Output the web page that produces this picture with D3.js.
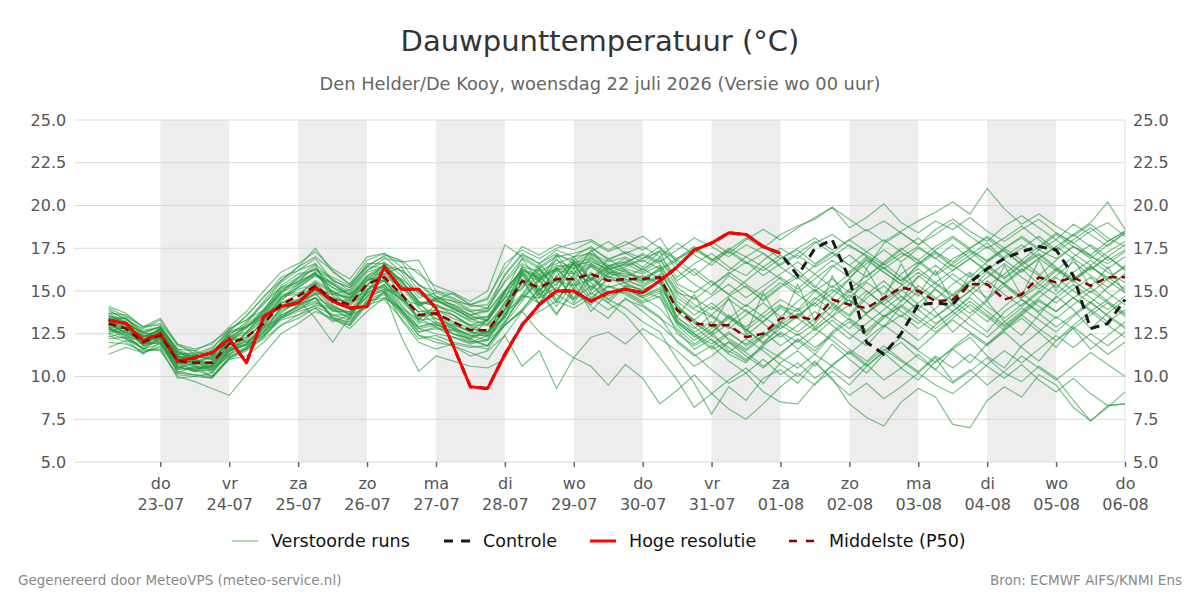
<!DOCTYPE html>
<html><head><meta charset="utf-8">
<script src="https://cdn.jsdelivr.net/npm/d3@7"></script>
<style>
body{margin:0;background:#fff;}
svg{display:block;font-family:"DejaVu Sans",sans-serif;}
</style></head><body><svg id="chart" width="1200" height="600"></svg>
<script>
// ---------------- DATA ----------------
const titleText = "Dauwpunttemperatuur (°C)";
const subtitleText = "Den Helder/De Kooy, woensdag 22 juli 2026 (Versie wo 00 uur)";
const startTime = "2026-07-22T06:00:00Z";
const stepHours = 6;
const xDomain = ["2026-07-21T18:00:00Z", "2026-08-06T00:00:00Z"];
const yTicks = [5.0, 7.5, 10.0, 12.5, 15.0, 17.5, 20.0, 22.5, 25.0];
const dayTicks = ["2026-07-23","2026-07-24","2026-07-25","2026-07-26","2026-07-27","2026-07-28","2026-07-29","2026-07-30","2026-07-31","2026-08-01","2026-08-02","2026-08-03","2026-08-04","2026-08-05","2026-08-06"];
const dayNames = ["do","vr","za","zo","ma","di","wo","do","vr","za","zo","ma","di","wo","do"];
const dayDates = ["23-07","24-07","25-07","26-07","27-07","28-07","29-07","30-07","31-07","01-08","02-08","03-08","04-08","05-08","06-08"];
const shadedDays = ["2026-07-23","2026-07-25","2026-07-27","2026-07-29","2026-07-31","2026-08-02","2026-08-04"];
const legendLabels = ["Verstoorde runs","Controle","Hoge resolutie","Middelste (P50)"];

const hiresValues = [13.3,13.1,12.1,12.5,10.9,11.1,11.4,12.2,10.8,13.5, 14.1,14.3,15.2,14.4,14.0,14.1,16.4,15.1,15.1,14.0, 11.8,9.4,9.3,11.3,13.0,14.2,15.0,15.0,14.4,14.9, 15.1,14.9,15.6,16.4,17.4,17.8,18.4,18.3,17.6,17.2];
const controlValues = [13.3,13.1,12.1,12.5,10.9,11.1,11.4,12.2,10.8,13.5, 14.1,14.3,15.2,14.4,14.0,14.1,16.4,15.1,15.1,14.0, 11.8,9.4,9.3,11.3,13.0,14.2,15.0,15.0,14.4,14.9, 15.1,14.9,15.6,16.4,17.4,17.8,18.4,18.3,17.6,17.2, 15.9,17.5,18.0,15.7,12.0,11.3,12.5,14.2,14.3,14.2, 15.5,16.3,16.9,17.3,17.6,17.4,15.9,12.8,13.1,14.5];
const p50Values = [13.1,12.8,12.0,12.4,10.9,10.8,10.8,11.9,12.3,13.1, 14.2,14.7,15.3,14.5,14.2,15.4,15.8,14.8,13.6,13.7, 13.2,12.7,12.7,14.0,15.6,15.2,15.7,15.7,16.0,15.6, 15.7,15.7,15.8,13.9,13.1,13.0,13.0,12.3,12.5,13.4, 13.5,13.3,14.5,14.2,14.0,14.6,15.2,15.0,14.4,14.5, 15.4,15.4,14.5,14.8,15.8,15.5,15.8,15.3,15.8,15.8];

const members = [
[13.5,13.4,12.3,12.5,11.4,11.0,10.5,12.1,13.1,14.3, 15.2,15.5,16.5,14.8,15.1,16.4,16.4,16.2,15.4,14.7, 14.4,14.2,14.0,15.5,16.6,16.0,16.8,16.3,17.1,16.4, 16.9,16.2,17.0,15.8,16.6,17.2,16.4,15.9,16.8,17.5, 16.9,17.8,18.3,17.6,17.1,16.5,17.2,16.8,16.0,16.9, 17.4,16.8,17.5,18.1,17.4,16.9,17.6,17.0,16.6,17.3],
[12.8,12.2,11.3,12.0,10.2,10.6,10.0,11.0,11.5,12.2, 13.0,13.6,14.0,13.2,13.6,14.0,15.0,13.8,12.4,12.0, 11.8,11.2,11.5,12.4,10.6,11.5,9.3,11.1,10.6,9.5, 10.7,9.9,8.4,9.2,10.1,9.0,9.8,10.5,9.6,10.8, 11.5,10.6,11.9,11.0,10.2,11.3,12.0,11.1,10.4,11.6, 12.3,11.2,10.5,11.8,12.6,11.7,12.9,12.1,11.3,12.0],
[12.6,12.9,12.4,12.0,10.4,11.2,11.3,11.2,12.6,13.8, 14.9,15.8,16.6,14.2,13.6,15.0,16.3,15.6,14.4,13.2, 12.8,12.2,13.4,14.8,15.3,16.4,14.9,16.8,15.6,16.9, 16.2,15.5,16.4,14.2,13.1,12.5,13.6,12.8,11.9,13.0, 12.4,13.1,14.2,13.5,14.6,15.3,14.4,15.9,15.1,14.2, 15.0,16.1,15.4,14.6,15.3,16.2,15.5,16.4,15.8,15.1],
[13.9,13.3,12.8,13.3,11.8,11.5,12.0,12.7,13.5,14.7, 15.6,16.4,17.5,16.1,15.4,16.8,17.2,16.4,15.0,14.6, 14.2,13.6,13.9,16.0,17.2,16.6,17.4,17.0,17.6,16.8, 17.3,16.9,17.6,16.2,15.4,14.8,15.9,15.2,14.5,15.3, 16.0,15.2,16.4,17.1,16.3,17.8,18.4,17.7,18.6,19.2, 18.5,17.9,18.8,19.4,18.7,18.0,18.9,18.3,17.6,18.4],
[12.0,11.9,11.5,11.6,10.0,9.7,9.3,8.9,10.1,11.3, 12.5,13.1,13.8,13.4,12.8,13.8,14.6,13.9,12.9,13.1, 12.5,12.2,11.8,13.1,14.4,15.8,15.0,16.3,14.8,15.7, 15.5,15.9,15.4,13.5,12.6,13.2,12.1,11.5,12.3,13.1, 14.0,12.8,13.5,14.8,13.6,12.9,14.1,15.0,13.8,12.6, 13.5,14.4,13.2,12.4,13.6,14.7,13.9,12.8,13.7,14.5],
[13.3,13.0,12.6,12.2,11.2,11.0,11.5,12.4,12.0,12.8, 13.8,14.3,14.8,15.0,14.4,15.6,15.9,15.2,14.0,13.4, 13.0,12.6,12.3,13.2,14.7,14.6,15.2,14.5,15.3,14.5, 14.0,13.2,12.6,11.0,9.6,7.8,9.4,8.6,9.9,10.4, 9.6,10.8,9.9,8.4,7.6,7.1,8.5,9.3,8.8,7.2, 7.0,8.6,9.4,8.8,10.1,9.5,8.2,7.4,8.3,8.4],
[13.6,13.1,11.8,12.0,10.6,10.3,10.9,11.6,11.9,13.0, 14.4,15.3,16.0,15.2,14.6,15.3,16.6,16.2,15.4,14.5, 14.0,13.6,13.2,14.9,16.9,15.5,17.1,16.0,17.4,16.3, 16.5,16.8,16.3,16.9,17.4,16.8,17.5,17.0,16.4,17.1, 16.2,15.3,14.6,15.7,16.9,16.1,15.4,16.6,17.3,16.5, 15.8,16.7,17.4,16.5,15.9,16.8,17.6,17.1,16.3,17.0],
[12.3,12.6,12.0,12.7,10.7,10.4,10.0,11.1,11.6,12.3, 13.4,13.9,14.6,13.4,13.0,14.3,14.9,13.7,12.8,13.0, 12.7,12.5,12.6,14.2,15.9,14.6,16.2,14.3,15.8,14.9, 15.2,14.6,15.0,13.1,12.4,11.6,12.0,11.2,10.5,11.4, 12.1,11.3,12.5,13.2,12.4,13.5,14.1,13.3,12.6,13.4, 14.2,13.5,12.7,13.6,14.4,13.8,14.6,15.2,14.4,13.7],
[13.7,13.6,12.9,13.0,11.6,11.5,11.2,12.8,13.3,13.9, 15.0,15.7,16.3,15.8,15.3,16.5,17.0,16.1,14.8,14.4, 14.2,13.8,14.0,15.6,16.9,16.3,17.0,17.2,17.5,16.9, 17.2,17.6,17.0,17.8,17.1,16.5,17.4,18.1,17.5,18.3, 18.8,19.2,19.9,18.7,19.3,20.1,19.0,18.4,19.1,18.6, 19.3,18.5,17.9,18.6,19.2,18.4,17.8,18.5,19.0,18.2],
[12.9,12.3,11.7,12.6,11.2,10.9,10.4,11.4,12.2,13.2, 14.6,15.2,15.9,15.4,14.8,15.7,15.6,14.2,13.1,13.9, 13.6,13.0,12.6,13.5,16.2,14.8,15.4,16.6,15.1,16.0, 15.9,15.4,16.0,14.6,13.9,13.5,12.8,13.6,14.3,13.5, 14.4,15.1,14.3,13.6,14.8,15.6,14.7,13.9,15.2,16.0, 15.3,14.6,15.5,16.3,15.4,14.8,15.7,16.5,15.6,14.9],
[13.1,12.5,11.6,12.3,10.5,10.8,10.9,11.7,12.0,12.7, 13.6,14.1,14.6,13.5,13.1,14.5,14.9,12.3,10.3,11.2, 10.9,10.6,10.5,11.0,13.2,13.8,14.4,14.0,14.6,13.9, 14.5,14.1,13.4,12.7,11.6,12.2,11.3,10.8,11.9,12.5, 11.6,12.4,13.3,12.5,11.8,12.9,13.6,12.8,13.5,14.2, 13.4,12.6,13.8,14.5,13.7,12.9,13.6,14.4,13.5,12.8],
[13.4,13.4,12.7,12.9,11.4,11.2,11.6,12.8,13.3,14.2, 15.5,16.2,16.6,15.6,15.2,16.2,16.9,16.7,16.8,15.0, 14.6,14.1,14.2,15.9,17.1,16.6,17.2,16.6,17.2,16.7, 17.0,16.4,17.3,15.4,14.9,15.6,14.8,14.1,15.0,15.8, 15.1,16.0,16.8,16.1,17.0,16.3,15.6,16.5,17.2,16.4, 17.1,17.8,16.9,17.5,18.2,17.4,18.3,19.0,20.2,18.6],
[12.4,12.0,11.4,11.7,9.9,10.0,9.9,11.0,11.2,12.0, 13.0,13.4,14.0,13.3,13.0,14.2,14.5,13.4,12.2,12.4, 12.0,11.8,11.6,13.0,13.8,14.9,13.6,15.2,14.1,13.4, 14.6,13.8,13.0,12.1,11.3,10.4,9.6,10.2,9.1,8.5, 8.4,9.6,10.3,9.5,10.6,11.4,10.5,9.8,10.9,11.6, 10.8,11.9,12.6,11.7,10.9,12.1,12.8,11.6,12.4,13.2],
[14.0,13.5,12.9,13.4,11.9,11.3,11.1,12.6,13.6,14.6, 15.8,16.2,16.9,15.6,15.2,16.6,16.6,15.4,14.1,14.6, 14.4,13.8,13.3,14.6,16.4,16.2,16.6,17.0,17.2,16.5, 16.7,17.1,16.6,15.0,14.2,13.6,14.5,13.8,13.2,14.0, 13.4,14.5,15.3,14.6,15.5,14.8,16.0,16.7,15.9,16.6, 17.3,16.5,15.8,16.6,17.2,16.4,15.7,16.3,17.0,16.2],
[13.0,12.9,12.3,12.8,11.3,10.6,10.4,11.6,11.8,12.6, 14.0,14.5,15.0,14.8,14.6,15.9,16.3,14.6,13.3,14.2, 13.8,13.2,13.1,14.0,16.5,15.2,16.9,15.6,17.0,16.1, 16.0,15.8,16.2,16.8,17.5,16.9,16.2,17.0,17.6,16.9, 17.5,18.1,17.4,18.0,18.6,17.9,18.5,19.1,19.6,20.2, 19.5,21.0,19.8,18.9,19.5,18.8,18.2,18.9,18.1,17.6],
[12.5,12.7,12.2,12.4,10.8,10.4,10.6,12.3,12.9,13.6, 14.8,14.9,15.1,14.0,13.4,15.0,16.0,15.3,14.2,13.6, 12.9,12.3,12.6,14.4,15.2,16.3,15.0,16.8,15.6,16.4, 15.4,15.0,15.6,13.4,12.8,13.6,12.9,12.4,13.2,14.1, 13.8,14.6,13.9,15.0,14.3,13.5,14.4,15.3,14.6,13.8, 14.7,15.6,14.8,14.1,14.9,15.8,15.0,14.3,15.2,16.0],
[13.2,12.9,11.8,12.2,10.9,10.9,10.3,11.5,11.9,12.8, 13.9,14.3,15.5,14.9,14.6,14.9,15.3,14.5,13.8,13.9, 13.6,12.9,12.4,13.5,14.5,15.6,14.3,15.9,14.6,15.3, 14.8,14.2,13.5,12.0,11.2,11.8,10.9,10.2,11.0,10.1, 10.8,9.9,10.6,11.5,10.7,9.8,10.5,11.3,10.4,9.6, 10.3,11.1,10.2,9.7,10.6,9.9,8.6,7.4,8.2,9.1],
[13.7,13.2,12.1,12.8,11.1,11.3,11.7,12.6,12.9,13.4, 14.6,15.4,16.0,15.5,14.9,16.1,16.4,14.9,13.2,13.0, 13.0,12.7,13.3,15.0,16.3,15.7,16.3,16.1,16.5,16.0, 16.3,16.0,16.5,14.9,14.6,13.9,14.7,15.3,14.4,15.2, 15.8,15.0,14.2,15.1,15.9,16.6,15.8,15.1,14.5,15.4, 16.1,15.3,16.0,16.8,16.0,15.2,16.1,16.8,16.1,15.5],
[12.2,12.3,11.6,11.5,10.1,10.0,10.2,11.5,11.9,12.9, 13.4,14.2,14.6,13.4,13.2,14.3,14.8,13.6,12.4,12.2, 11.8,11.4,11.0,12.4,13.8,12.6,11.8,11.1,12.3,12.6, 11.9,12.8,12.2,11.5,10.6,11.2,12.0,11.4,10.6,11.3, 12.2,11.5,12.6,13.4,12.7,13.6,12.9,12.1,13.0,13.8, 13.0,12.3,13.2,14.0,13.3,12.6,13.5,14.3,13.6,12.9],
[13.3,13.4,12.6,12.9,11.6,11.1,11.4,12.4,13.2,14.4, 15.6,16.4,17.0,16.2,15.4,16.4,17.1,16.8,16.0,15.3, 14.9,14.2,14.6,16.3,17.6,17.1,17.7,17.4,17.9,17.3, 17.7,18.2,17.5,16.9,17.6,16.8,17.4,16.7,16.2,16.9, 17.4,16.6,17.3,16.5,15.8,16.7,17.5,16.8,17.6,18.2, 17.5,18.1,17.3,16.6,17.4,18.0,17.2,16.5,17.3,17.9],
[12.8,12.4,12.0,12.6,11.0,10.5,10.6,11.7,12.5,13.4, 14.3,14.4,14.8,13.9,13.4,14.7,15.4,14.1,12.9,13.2, 12.8,12.4,12.4,13.9,16.0,14.7,15.9,16.6,15.2,16.3, 15.8,16.3,15.7,13.2,12.5,11.9,12.6,11.8,12.4,13.0, 13.7,12.9,13.8,14.5,13.7,14.4,15.1,14.2,13.5,14.3, 15.0,14.1,13.4,14.2,15.0,14.3,15.1,15.8,14.9,14.2],
[12.9,12.4,11.6,12.2,10.2,10.1,10.0,11.1,11.6,12.3, 13.5,13.9,14.3,14.0,13.8,14.6,15.1,13.8,12.6,12.8, 12.7,12.1,11.8,13.2,14.8,14.3,14.8,14.2,14.9,14.3, 13.6,12.4,11.1,9.8,8.2,9.0,8.1,7.5,8.4,9.4, 10.2,9.5,10.7,11.4,10.6,11.5,12.3,11.5,10.8,11.7, 12.5,11.8,12.7,13.4,12.6,13.5,12.8,13.6,14.3,13.5],
[13.5,13.2,12.4,12.3,11.3,11.2,11.0,12.2,12.1,12.9, 14.5,15.1,15.4,14.4,14.5,15.8,16.2,15.5,14.3,14.2, 13.6,13.0,13.3,14.6,15.1,16.6,15.5,17.0,15.7,16.5, 16.1,15.6,16.2,14.4,13.6,14.3,13.5,12.9,13.7,14.5, 13.9,15.0,15.7,14.9,15.6,16.4,15.6,16.3,15.5,14.8, 15.6,16.4,15.7,16.5,17.1,16.3,15.6,16.4,15.7,16.5],
[14.1,13.7,12.9,13.1,11.9,11.6,11.9,12.9,13.8,15.0, 16.1,16.6,17.3,16.3,15.7,17.0,17.2,16.7,15.3,15.0, 14.8,14.2,14.5,16.6,17.4,16.9,17.5,17.8,18.0,17.4, 17.9,17.4,18.1,16.6,15.9,16.7,17.3,16.6,17.2,16.4, 15.7,16.5,17.2,18.0,17.3,16.6,17.4,18.1,17.3,16.7, 17.5,18.2,17.5,16.8,17.6,18.4,17.8,17.1,17.9,18.5],
[11.3,11.7,11.4,11.8,10.3,10.1,9.9,11.1,11.7,12.6, 13.4,13.8,14.1,13.6,13.3,14.4,14.6,14.0,13.3,13.4, 12.9,12.4,12.1,13.0,13.9,15.1,13.7,14.9,14.2,15.3, 15.0,14.4,14.9,13.0,12.1,12.8,13.5,12.7,12.0,12.8, 13.6,14.3,13.5,12.8,13.7,14.6,13.8,13.1,14.0,14.8, 14.0,13.2,14.1,14.9,14.1,13.4,14.2,15.0,14.3,13.6],
[13.6,13.1,12.6,12.9,11.4,11.3,11.0,12.0,12.8,13.9, 15.3,16.0,16.2,15.7,15.0,16.2,16.7,15.9,14.6,14.9, 14.5,13.9,13.8,15.0,16.3,15.9,16.5,16.4,16.8,16.2, 16.6,16.1,16.8,15.6,16.3,15.5,14.8,15.6,16.4,15.7, 14.9,15.7,16.5,15.8,16.6,17.4,16.7,17.5,16.9,17.7, 16.9,16.2,17.0,17.7,16.9,17.6,18.3,17.6,16.8,17.4],
[12.6,12.7,12.0,11.9,10.6,10.3,10.6,11.9,11.8,12.5, 13.6,14.0,14.4,13.6,13.6,14.9,15.4,13.9,12.6,12.9, 12.5,12.0,12.4,13.4,15.6,14.2,15.8,14.6,16.0,14.5, 15.3,14.7,15.2,13.8,12.9,12.1,11.4,12.2,11.5,10.7, 10.0,10.9,9.8,8.9,9.6,8.7,9.4,10.2,9.5,9.0, 9.8,10.7,11.5,10.8,11.6,12.4,11.7,12.5,11.8,12.6],
[13.0,12.8,12.3,12.7,11.2,11.0,10.6,11.6,12.6,13.5, 14.7,14.8,15.6,15.0,14.5,15.8,15.6,14.4,13.4,13.9, 13.4,13.0,13.0,14.3,16.1,15.0,16.4,15.1,16.5,15.6, 15.6,15.3,15.9,14.1,13.3,12.6,13.4,14.2,13.5,12.8, 13.5,14.3,15.1,14.4,13.7,14.5,15.3,16.1,15.4,14.7, 15.5,16.2,15.4,14.7,15.5,16.3,15.6,14.9,15.7,16.4],
[13.3,12.9,12.1,12.8,11.1,10.8,11.2,12.3,12.6,13.6, 14.9,15.6,16.0,15.4,14.8,15.9,16.5,15.6,14.4,14.1, 13.8,13.3,13.5,15.0,16.2,15.8,16.3,16.3,16.6,16.1, 16.4,16.9,17.3,16.5,17.2,17.9,17.2,18.0,18.6,18.0, 18.7,19.3,19.9,19.2,18.5,19.1,18.4,17.7,18.3,19.0, 18.2,17.5,18.1,18.8,18.0,17.3,18.0,18.7,17.9,18.5],
[12.5,12.2,11.6,11.9,10.4,10.5,10.5,11.3,11.9,12.4, 13.3,13.6,14.2,13.9,13.7,14.7,15.0,13.3,12.0,11.6, 11.9,11.7,11.8,13.0,13.9,15.2,14.1,15.5,13.8,14.9, 14.9,14.3,14.7,12.5,11.8,12.4,11.7,11.0,11.8,12.6, 12.0,12.8,12.1,11.3,12.2,13.0,12.3,11.6,12.5,13.3, 12.6,11.9,12.8,13.6,12.8,12.1,13.0,13.8,13.0,12.3],
[13.8,13.4,12.5,12.6,11.3,11.4,11.3,12.5,12.9,13.7, 15.1,15.5,16.1,14.9,14.1,15.3,16.3,15.7,14.9,14.5, 13.9,13.5,13.3,14.9,16.0,15.6,16.2,16.0,16.4,15.8, 16.2,15.7,16.3,14.8,14.0,14.7,15.4,14.6,15.3,16.0, 16.7,16.0,15.2,16.0,16.8,16.1,15.4,14.7,15.5,16.2, 16.9,16.1,15.4,16.2,16.9,16.2,17.0,17.7,17.0,16.3],
[13.1,12.6,12.1,12.2,10.7,10.9,11.2,12.1,12.3,13.2, 14.3,14.8,15.5,14.5,14.4,15.1,15.6,14.5,13.8,13.7, 13.2,12.8,12.6,13.9,14.8,16.2,15.3,16.7,15.0,16.1, 15.7,15.6,15.7,13.5,14.8,12.9,14.6,12.5,14.9,13.1, 15.4,13.2,15.9,14.1,16.3,14.5,16.6,14.8,16.2,14.3, 16.0,14.4,16.5,14.7,16.8,15.0,16.9,15.2,16.4,14.9],
[13.0,13.2,12.5,12.9,11.5,11.0,10.7,12.3,12.9,13.6, 14.3,14.5,13.4,12.0,13.5,15.0,15.6,14.6,13.5,13.6, 13.1,12.6,12.5,13.9,15.5,15.1,15.6,15.3,15.7,15.2, 15.5,15.0,14.6,13.2,12.3,13.0,12.2,11.6,12.4,13.2, 12.6,13.4,14.1,13.3,12.6,13.4,14.2,13.5,12.8,13.6, 14.4,13.6,12.9,13.7,14.5,13.8,14.6,13.9,13.2,13.9],
[13.2,12.8,12.3,12.7,11.1,11.2,11.0,12.0,12.9,13.8, 14.9,15.4,16.1,14.7,14.2,15.6,16.6,15.6,14.3,14.5, 14.9,14.4,15.0,17.7,17.0,16.4,17.1,16.8,17.3,17.9, 17.2,16.7,17.4,16.8,16.1,15.3,16.0,16.7,15.9,16.6, 17.2,17.9,17.2,16.5,17.3,18.0,17.3,16.6,17.4,18.1, 17.4,16.7,17.5,18.2,17.5,18.3,17.6,16.9,17.7,18.4],
[12.7,12.9,11.9,12.0,10.8,10.7,10.2,11.3,11.7,12.4, 13.5,14.1,14.9,14.6,14.3,14.8,15.1,14.9,13.7,13.1, 12.5,12.2,12.6,13.5,15.7,14.3,15.9,14.5,16.1,14.7, 15.1,14.6,14.0,12.8,11.9,12.6,11.5,10.9,11.7,11.1, 10.5,11.3,10.6,9.9,10.8,11.6,10.9,10.2,11.1,9.7, 10.4,9.5,10.3,11.2,10.5,9.8,10.6,11.4,10.7,10.0],
[13.4,12.9,12.0,12.9,11.5,10.8,11.1,12.6,13.0,13.9, 15.2,15.8,16.3,15.4,14.7,15.6,16.2,15.3,14.2,14.4, 14.0,13.4,13.5,14.6,16.2,15.8,16.4,16.6,16.9,16.4, 16.7,16.3,16.9,15.2,14.5,15.3,16.1,15.4,14.7,15.5, 14.8,14.1,14.9,15.7,15.0,14.2,15.0,15.8,16.5,15.7, 15.0,15.8,16.6,15.8,15.1,15.9,16.7,15.9,15.2,16.0],
[11.7,12.1,11.9,12.1,10.6,10.3,10.4,11.2,11.6,12.9, 14.0,14.2,14.6,14.1,13.7,15.1,15.7,14.7,13.4,12.9, 12.3,12.0,12.1,13.7,14.6,15.7,14.4,16.0,15.5,14.3, 15.3,15.1,15.5,14.0,13.2,12.4,13.1,13.9,13.1,12.3, 13.0,13.8,13.0,12.2,13.1,13.9,14.7,13.9,13.1,13.8, 14.6,13.8,13.0,13.8,14.6,15.4,14.6,13.8,14.5,15.3],
[12.9,12.8,12.4,12.7,11.1,10.7,10.8,12.2,12.5,13.3, 14.6,15.2,15.9,15.2,14.8,15.4,16.0,16.4,16.2,14.7, 14.1,13.6,13.8,15.1,16.1,15.7,16.3,16.5,16.7,16.3, 16.6,17.2,16.7,17.4,18.1,17.6,17.0,17.7,17.2,16.5, 17.1,16.4,17.0,17.7,17.0,16.3,17.0,17.6,16.9,16.2, 16.9,17.6,16.8,16.1,16.9,17.6,16.9,16.2,17.0,17.7],
[12.8,12.5,11.9,12.3,10.5,10.4,10.7,11.9,12.0,12.6, 13.7,14.5,15.3,14.1,13.6,14.9,15.2,13.9,12.8,12.5, 12.3,11.9,12.2,13.6,16.0,14.9,16.3,15.3,16.6,15.8, 15.7,15.2,15.8,14.0,13.3,14.1,13.4,12.7,13.5,14.2, 13.4,12.7,13.5,14.2,15.0,14.2,13.5,14.3,15.1,14.4, 13.7,14.5,15.3,14.5,13.8,14.6,15.4,14.6,13.9,14.7],
[13.0,12.6,11.9,12.4,10.9,10.6,10.6,11.5,12.3,13.1, 14.2,14.4,14.9,13.8,13.8,15.3,15.2,14.5,14.2,14.5, 14.0,13.4,13.0,13.7,14.7,16.0,14.5,15.7,14.4,15.9, 15.2,14.7,15.1,13.3,12.5,11.7,12.5,11.9,12.6,11.8, 12.5,11.7,12.4,11.6,10.9,11.8,11.0,10.3,11.2,10.5, 11.3,10.6,9.9,10.7,9.8,9.1,9.9,9.0,8.3,8.4]
];

// ---------------- LAYOUT ----------------
const W = 1200, H = 600;
const plot = {left: 74.2, right: 1125, top: 120, bottom: 462};
const svg = d3.select("#chart");
svg.append("rect").attr("width", W).attr("height", H).attr("fill", "#fff");

const t0 = new Date(startTime).getTime();
const timeAt = i => new Date(t0 + i * stepHours * 3600 * 1000);

const x = d3.scaleUtc().domain(xDomain.map(d => new Date(d))).range([plot.left, plot.right]);
const y = d3.scaleLinear().domain([5, 25]).range([plot.bottom, plot.top]);

// shaded days
svg.append("g").selectAll("rect").data(shadedDays).join("rect")
  .attr("x", d => x(new Date(d + "T00:00:00Z")))
  .attr("width", d => x(d3.utcDay.offset(new Date(d + "T00:00:00Z"), 1)) - x(new Date(d + "T00:00:00Z")))
  .attr("y", plot.top).attr("height", plot.bottom - plot.top)
  .attr("fill", "#ededed");

// grid
svg.append("g").selectAll("line").data(yTicks).join("line")
  .attr("x1", plot.left).attr("x2", plot.right)
  .attr("y1", d => y(d)).attr("y2", d => y(d))
  .attr("stroke", "#d9d9d9").attr("stroke-width", 1);
svg.append("line").attr("x1", plot.right).attr("x2", plot.right)
  .attr("y1", plot.top).attr("y2", plot.bottom).attr("stroke", "#e0e0e0");

// y axes
const yLeft = svg.append("g").attr("transform", `translate(${plot.left},0)`)
  .call(d3.axisLeft(y).tickValues(yTicks).tickFormat(d3.format(".1f")).tickSize(0).tickPadding(8));
const yRight = svg.append("g").attr("transform", `translate(${plot.right},0)`)
  .call(d3.axisRight(y).tickValues(yTicks).tickFormat(d3.format(".1f")).tickSize(0).tickPadding(8));
[yLeft, yRight].forEach(g => {
  g.select(".domain").remove();
  g.selectAll("text").attr("font-size", 16).attr("fill", "#555").attr("font-family", "DejaVu Sans");
});

// x axis
const xAxisG = svg.append("g").attr("transform", `translate(0,${plot.bottom})`)
  .call(d3.axisBottom(x).tickValues(dayTicks.map(d => new Date(d + "T00:00:00Z"))).tickSize(5).tickFormat(""));
xAxisG.select(".domain").remove();
xAxisG.selectAll(".tick line").attr("stroke", "#666").attr("stroke-width", 1.5);
xAxisG.selectAll(".tick").each(function(d, i) {
  const t = d3.select(this).append("text").attr("fill", "#555").attr("font-size", 16)
    .attr("font-family", "DejaVu Sans").attr("text-anchor", "middle");
  t.append("tspan").attr("x", 0).attr("y", 27).text(dayNames[i]);
  t.append("tspan").attr("x", 0).attr("y", 48).text(dayDates[i]);
});

// lines
const line = d3.line().x((d, i) => x(timeAt(i))).y(d => y(d));
const gMembers = svg.append("g");
members.forEach(m => {
  gMembers.append("path").attr("d", line(m)).attr("fill", "none")
    .attr("stroke", "#229a3e").attr("stroke-opacity", 0.6).attr("stroke-width", 1.2);
});
svg.append("path").attr("d", line(controlValues)).attr("fill", "none")
  .attr("stroke", "#1a1a1a").attr("stroke-width", 3).attr("stroke-dasharray", "9,6");
svg.append("path").attr("d", line(hiresValues)).attr("fill", "none")
  .attr("stroke", "#ff0000").attr("stroke-width", 3).attr("stroke-linejoin", "round");
svg.append("path").attr("d", line(p50Values)).attr("fill", "none")
  .attr("stroke", "#8b0000").attr("stroke-width", 2.5).attr("stroke-dasharray", "8,5");

// titles
svg.append("text").attr("x", 600).attr("y", 51).attr("text-anchor", "middle")
  .attr("font-size", 29).attr("fill", "#333").text(titleText);
svg.append("text").attr("x", 600).attr("y", 90).attr("text-anchor", "middle")
  .attr("font-size", 17.8).attr("fill", "#666").text(subtitleText);

// legend
const legY = 541;
const legendItems = [
  {x: 232, tx: 271, stroke: "#5cb85c", w: 1, dash: null},
  {x: 444, tx: 483, stroke: "#1a1a1a", w: 3, dash: "9,8"},
  {x: 590, tx: 629, stroke: "#ff0000", w: 3, dash: null},
  {x: 789, tx: 829, stroke: "#8b0000", w: 2.5, dash: "8,9"}
];
legendItems.forEach((it, i) => {
  const l = svg.append("line").attr("x1", it.x).attr("x2", it.x + 26).attr("y1", legY).attr("y2", legY)
    .attr("stroke", it.stroke).attr("stroke-width", it.w);
  if (it.dash) l.attr("stroke-dasharray", it.dash);
  svg.append("text").attr("x", it.tx).attr("y", legY + 6).attr("font-size", 17.5)
    .attr("fill", "#111").text(legendLabels[i]);
});

// footer
svg.append("text").attr("x", 18).attr("y", 585).attr("font-size", 13.5).attr("fill", "#888")
  .text("Gegenereerd door MeteoVPS (meteo-service.nl)");
svg.append("text").attr("x", 1182).attr("y", 585).attr("font-size", 13.5).attr("fill", "#888")
  .attr("text-anchor", "end").text("Bron: ECMWF AIFS/KNMI Ens");
</script></body></html>
